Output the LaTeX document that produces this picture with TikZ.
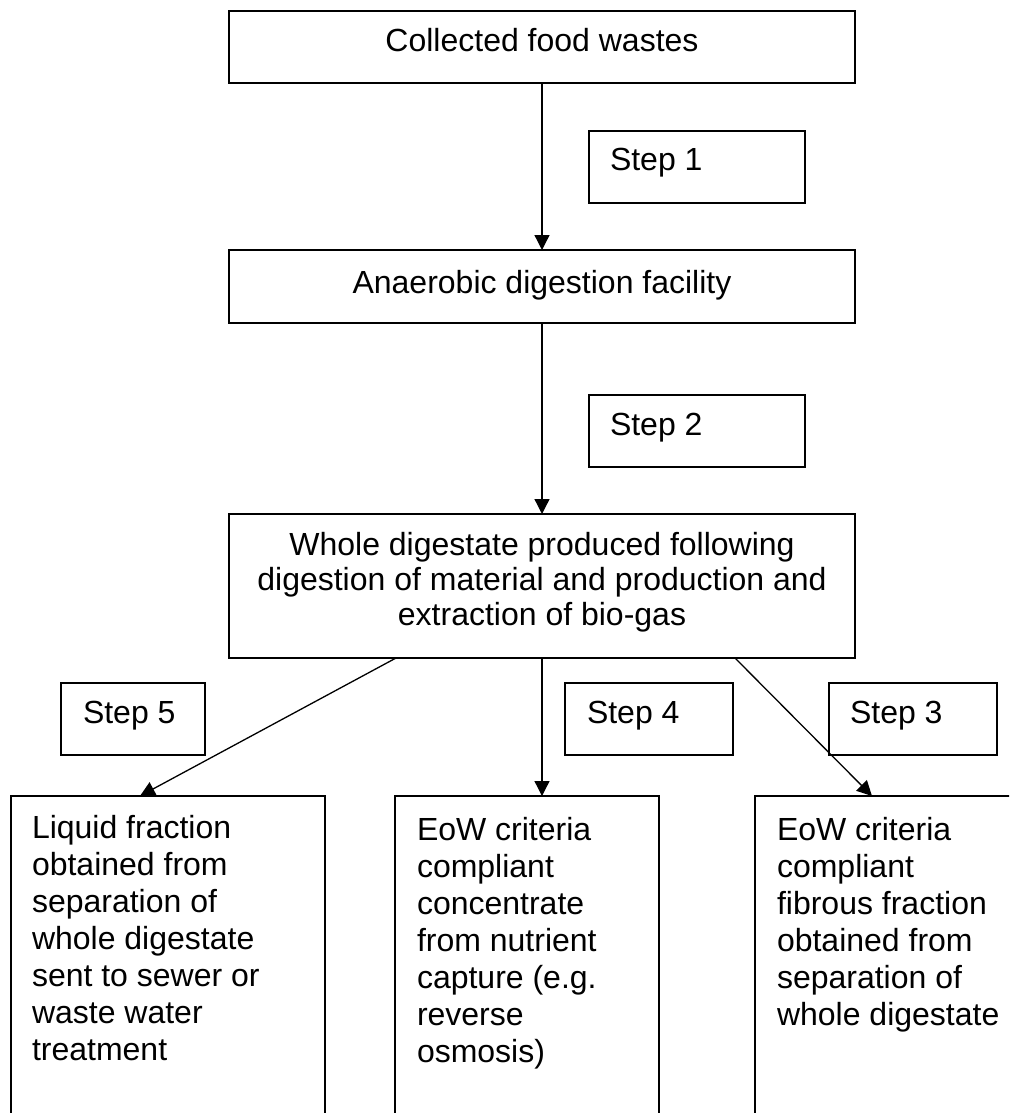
\documentclass[tikz,border=0pt]{standalone}
\usepackage{fontspec}
\setmainfont{Liberation Sans}
\usetikzlibrary{arrows.meta,calc}
\begin{document}
\begin{tikzpicture}[x=1pt,y=-1pt,
  box/.style={draw=black,line width=1.6pt,rectangle,inner sep=0pt,outer sep=0pt},
  txt/.style={inner sep=0pt,outer sep=0pt,font=\fontsize{32}{37}\selectfont},
  conn/.style={line width=1.3pt,-{Triangle[length=15pt,width=15pt]}}]
\useasboundingbox (0,0) rectangle (1009,1113);
\clip (0,0) rectangle (1009,1113);
\fill[white] (0,0) rectangle (1009,1113);
% main boxes
\node[box,minimum width=626pt,minimum height=72pt] (box1) at (542,47) {};
\node[box,minimum width=626pt,minimum height=73pt] (box2) at (542,286.5) {};
\node[box,minimum width=626pt,minimum height=144pt] (box3) at (542,586) {};
% step boxes
\node[box,minimum width=216pt,minimum height=72pt] (s1) at (697,167) {};
\node[box,minimum width=216pt,minimum height=72pt] (s2) at (697,431) {};
\node[box,minimum width=144pt,minimum height=72pt] (s5) at (133,719) {};
\node[box,minimum width=168pt,minimum height=72pt] (s4) at (649,719) {};
\node[box,minimum width=168pt,minimum height=72pt] (s3) at (913,719) {};
% bottom boxes
\node[box,minimum width=314pt,minimum height=344pt] (bl) at (168,968) {};
\node[box,minimum width=264pt,minimum height=344pt] (bm) at (527,968) {};
\node[box,minimum width=285pt,minimum height=344pt] (br) at (897.5,968) {};
% texts
\node[txt,anchor=north] (t1) at (542,28) {Collected food wastes};
\node[txt,anchor=north] (t2) at (542,270) {Anaerobic digestion facility};
\node[txt,anchor=north,align=center,font=\fontsize{32}{35}\selectfont] (t3) at (542,532)
  {Whole digestate produced following\\digestion of material and production and\\extraction of bio-gas};
\node[txt,anchor=north west] (ts1) at (610,148) {Step 1};
\node[txt,anchor=north west] (ts2) at (610,413) {Step 2};
\node[txt,anchor=north west] (ts5) at (83,701) {Step 5};
\node[txt,anchor=north west] (ts4) at (587,701) {Step 4};
\node[txt,anchor=north west] (ts3) at (850,701) {Step 3};
\node[txt,anchor=north west,align=left] (tl) at (32,815)
  {Liquid fraction\\obtained from\\separation of\\whole digestate\\sent to sewer or\\waste water\\treatment};
\node[txt,anchor=north west,align=left] (tm) at (417,817)
  {EoW criteria\\compliant\\concentrate\\from nutrient\\capture (e.g.\\reverse\\osmosis)};
\node[txt,anchor=north west,align=left] (tr) at (777,817)
  {EoW criteria\\compliant\\fibrous fraction\\obtained from\\separation of\\whole digestate};
% connectors
\draw[conn] (box1.south) -- (box2.north);
\draw[conn] (box2.south) -- (box3.north);
\draw[conn] ([xshift=-146pt]box3.south) -- ([xshift=-28pt]bl.north);
\draw[conn] (box3.south) -- (box3.south |- bm.north);
\draw[conn] ([xshift=193pt]box3.south) -- ([xshift=117pt]br.north west);
\end{tikzpicture}
\end{document}
